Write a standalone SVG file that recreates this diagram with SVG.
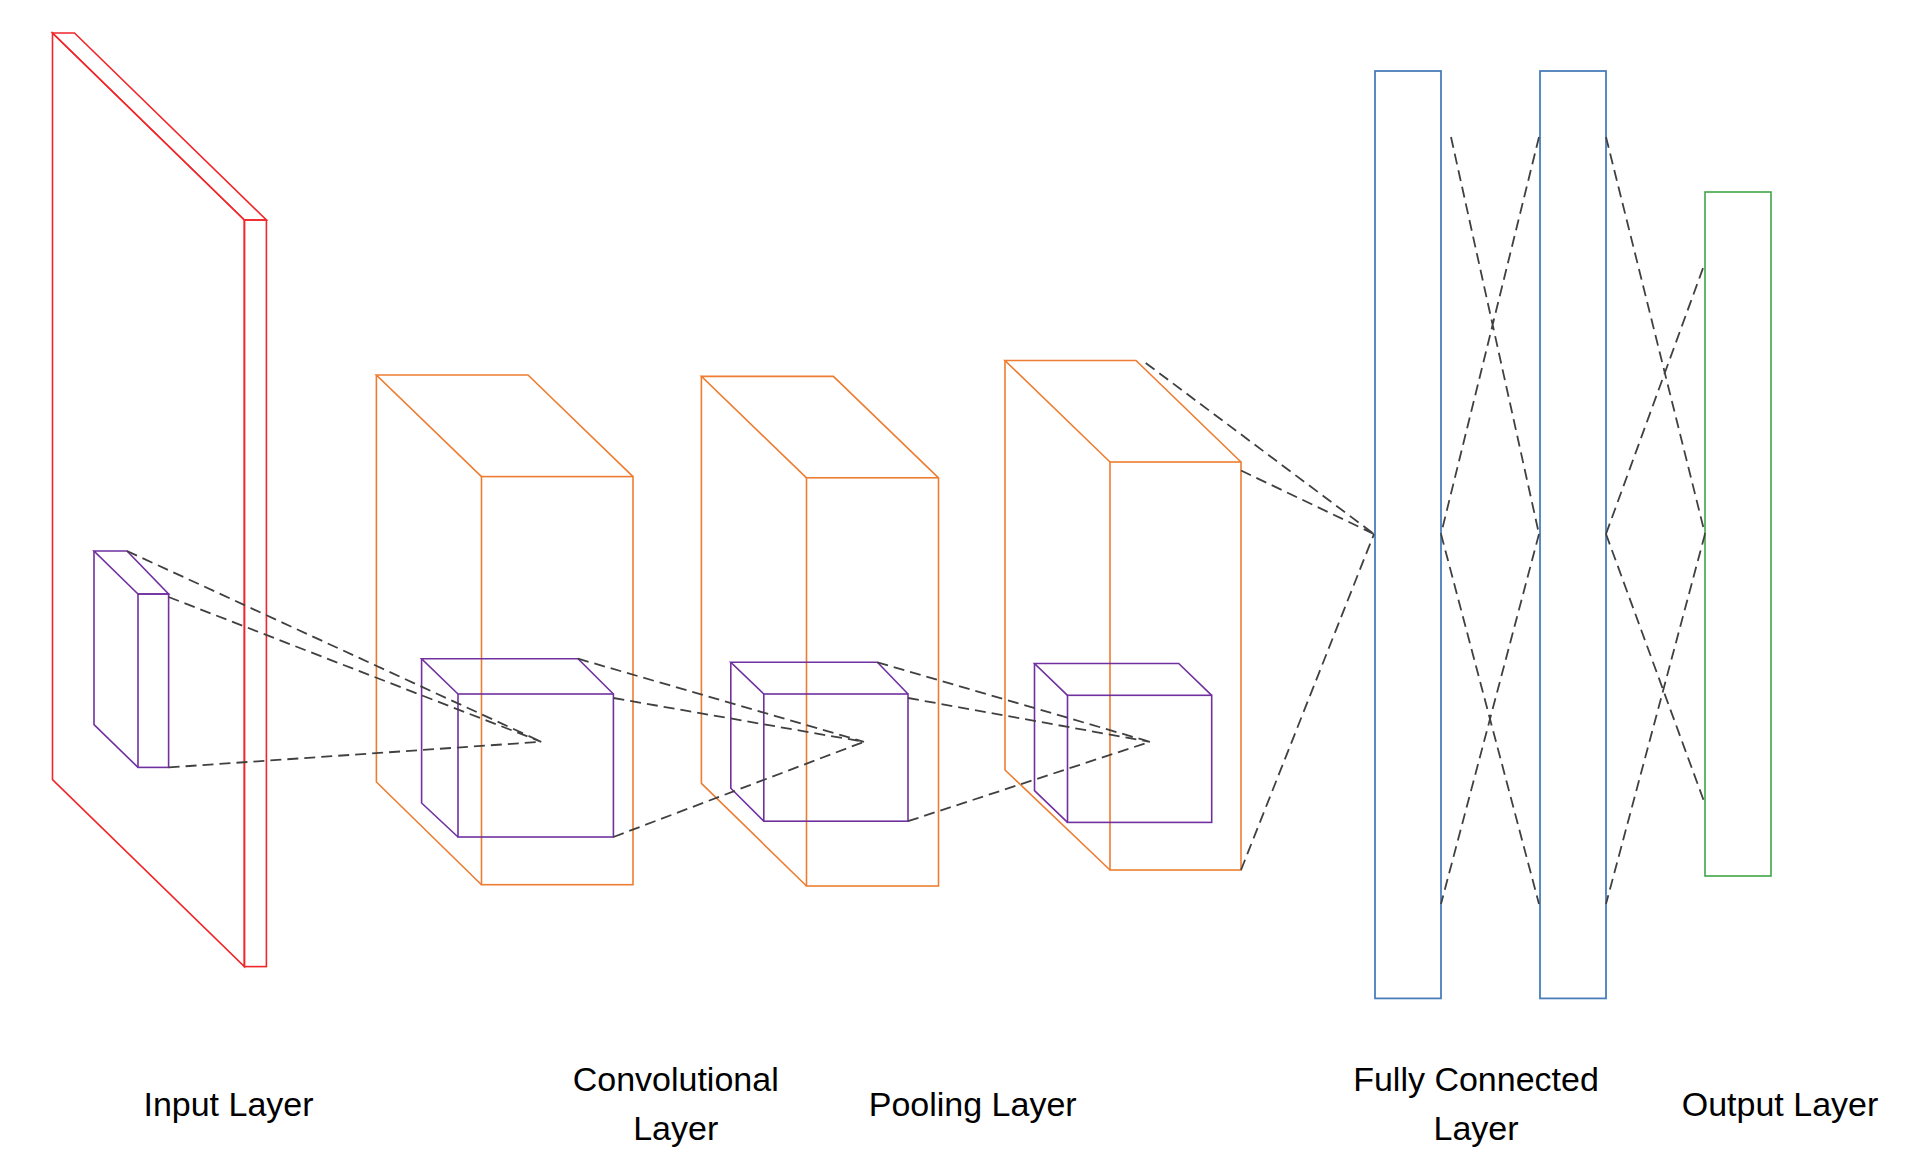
<svg xmlns="http://www.w3.org/2000/svg" width="1906" height="1165" viewBox="0 0 1906 1165">
<style>
.red{fill:none;stroke:#f0262a;stroke-width:1.6}
.or{fill:none;stroke:#ed7d31;stroke-width:1.6}
.pu{fill:none;stroke:#7030a0;stroke-width:1.6}
.bl{fill:none;stroke:#4a7ebb;stroke-width:1.8}
.gr{fill:none;stroke:#3fa648;stroke-width:1.6}
.d{fill:none;stroke:#404040;stroke-width:1.8;stroke-dasharray:11 6}
text{font-family:"Liberation Sans",Arial,sans-serif;font-size:34px;fill:#000;text-anchor:middle}
</style>
<rect width="1906" height="1165" fill="#fff"/>
<g id="input">
<polygon class="red" points="52.5,33 244.4,220 244.4,966.6 52.5,779.6"/>
<polygon class="red" points="52.5,33 74.5,33 266.4,220 244.4,220"/>
<rect class="red" x="244.4" y="220" width="22" height="746.6"/>
<polygon class="pu" points="94,551 127,551 168.6,594 138,594"/>
<polyline class="pu" points="94,551 94,724.6 138,767.4"/>
<rect class="pu" x="138" y="594" width="30.6" height="173.4"/>
</g>
<g id="conv">
<polyline class="or" points="481.5,476.6 376.4,375 528,375 633,476.6"/>
<polyline class="or" points="376.4,375 376.4,782 481.5,884.7"/>
<rect class="or" x="481.5" y="476.6" width="151.5" height="408.1"/>
<polyline class="pu" points="458,694 421.6,658.7 578,658.7 613.4,694"/>
<polyline class="pu" points="421.6,658.7 421.6,803 458,837"/>
<rect class="pu" x="458" y="694" width="155.4" height="143"/>
</g>
<g id="pool">
<polyline class="or" points="806.5,477.8 701.4,376.4 833.4,376.4 938.5,477.8"/>
<polyline class="or" points="701.4,376.4 701.4,783.3 806.5,886"/>
<rect class="or" x="806.5" y="477.8" width="132" height="408.2"/>
<polyline class="pu" points="763.8,694 730.8,662.3 877.4,662.3 908,694"/>
<polyline class="pu" points="730.8,662.3 730.8,788.2 763.8,821.2"/>
<rect class="pu" x="763.8" y="694" width="144.2" height="127.2"/>
</g>
<g id="pool2">
<polyline class="or" points="1110,462 1005,360.5 1136,360.5 1241,462"/>
<polyline class="or" points="1005,360.5 1005,770 1110,870"/>
<rect class="or" x="1110" y="462" width="131" height="408"/>
<polyline class="pu" points="1067.5,695.3 1034.5,663.5 1178.7,663.5 1211.7,695.3"/>
<polyline class="pu" points="1034.5,663.5 1034.5,790.6 1067.5,822.4"/>
<rect class="pu" x="1067.5" y="695.3" width="144.2" height="127.1"/>
</g>
<g id="fc1"><rect class="bl" x="1375" y="71" width="66" height="927.4"/></g>
<g id="fc2"><rect class="bl" x="1540" y="71" width="66" height="927.4"/></g>
<g id="output"><rect class="gr" x="1705" y="192" width="66" height="684"/></g>
<g id="connectors">
<path class="d" d="M127,551 L541.3,741.8 M168.6,597 L541.3,741.8 M168.6,767.4 L541.3,741.8"/>
<path class="d" d="M578,658.7 L864,741.8 M613.4,698 L864,741.8 M613.4,837 L864,741.8"/>
<path class="d" d="M877.4,662.3 L1150,741.8 M908,698 L1150,741.8 M908,821.2 L1150,741.8"/>
<path class="d" d="M1145.7,363 L1374,534 M1241,470.5 L1374,534 M1241,870 L1374,534"/>
<path class="d" d="M1451,137 L1539,534 M1539,137 L1441,534 M1441,534 L1539,904 M1539,534 L1441,904"/>
<path class="d" d="M1606,137 L1705,534 M1606,534 L1705,262.7 M1606,534 L1705,804 M1705,534 L1606,904"/>
</g>
<g id="labels">
<text x="228.5" y="1116">Input Layer</text>
<text x="675.7" y="1091">Convolutional</text>
<text x="675.7" y="1140">Layer</text>
<text x="972.7" y="1116">Pooling Layer</text>
<text x="1476" y="1091">Fully Connected</text>
<text x="1476" y="1140">Layer</text>
<text x="1780" y="1116">Output Layer</text>
</g>
</svg>
